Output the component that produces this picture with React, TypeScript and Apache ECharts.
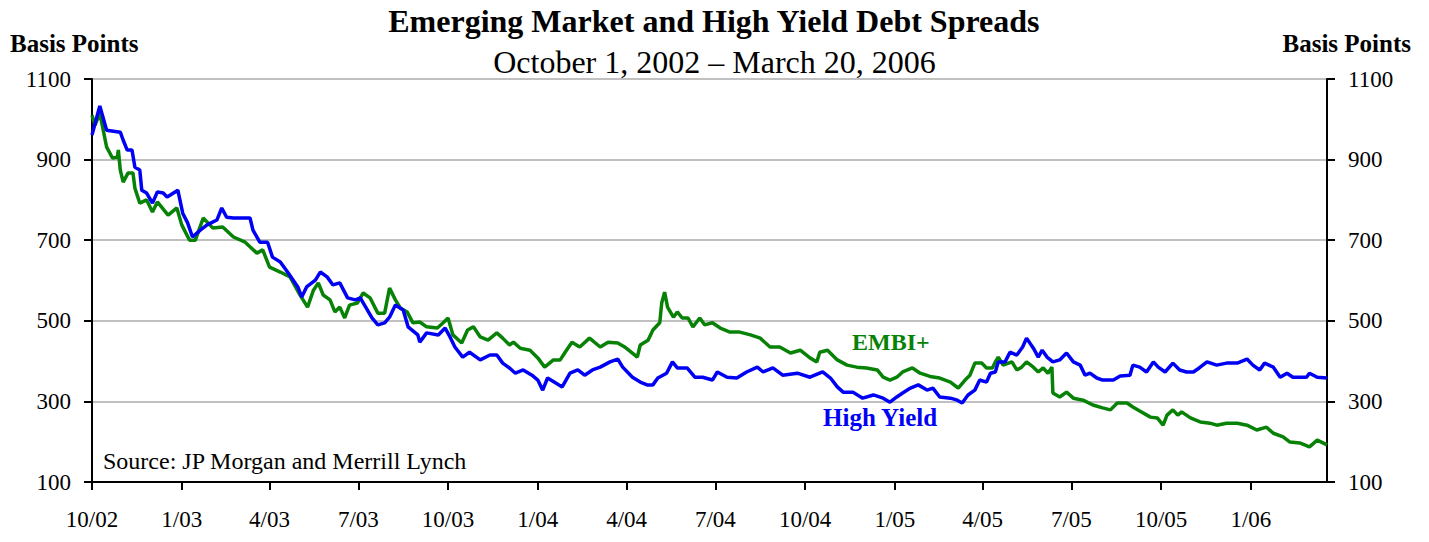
import React, { useEffect, useRef } from "react";
import * as echarts from "echarts";

// Day offsets are days since October 1, 2002
const quarterDays = [0, 92, 182, 273, 365, 457, 548, 639, 731, 823, 913, 1004, 1096, 1188];
const quarterLabels = ["10/02", "1/03", "4/03", "7/03", "10/03", "1/04", "4/04", "7/04", "10/04", "1/05", "4/05", "7/05", "10/05", "1/06"];
const lastDay = 1266; // March 20, 2006

const yTicks = [100, 300, 500, 700, 900, 1100];

const highYieldDays = [
  0, 8, 15, 29, 32, 36, 41, 44, 49, 51, 56, 62, 67, 73, 77, 88, 93, 98, 103, 111,
  118, 128, 133, 138, 145, 162, 165, 172, 180, 185, 193, 201, 211, 215, 220, 229, 234, 241, 247, 254,
  262, 270, 275, 287, 293, 300, 305, 311, 319, 324, 334, 336, 343, 355, 362, 367, 372, 380, 387, 398,
  408, 415, 421, 428, 434, 442, 451, 457, 462, 467, 475, 482, 490, 498, 505, 513, 521, 531, 539, 544,
  554, 562, 569, 575, 580, 589, 595, 600, 610, 618, 626, 636, 641, 651, 661, 671, 682, 688, 698, 708,
  723, 736, 749, 757, 764, 770, 780, 790, 801, 811, 818, 825, 831, 839, 847, 856, 862, 869, 880, 887,
  892, 898, 905, 910, 917, 921, 926, 929, 936, 941, 948, 954, 958, 965, 970, 974, 979, 985, 992, 999,
  1006, 1013, 1018, 1023, 1030, 1036, 1047, 1054, 1064, 1067, 1074, 1081, 1088, 1093, 1100, 1108, 1115, 1122, 1129, 1135,
  1143, 1153, 1163, 1174, 1184, 1190, 1197, 1202, 1211, 1218, 1225, 1231, 1245, 1248, 1256, 1266
];
const highYieldValues = [
  961, 1033, 973, 968, 948, 924, 924, 881, 874, 824, 817, 792, 820, 817, 807, 824, 767, 743, 708, 725,
  738, 750, 780, 757, 755, 755, 725, 695, 695, 658, 646, 619, 584, 559, 584, 601, 621, 609, 589, 594,
  557, 552, 557, 507, 490, 495, 509, 539, 527, 485, 465, 447, 470, 465, 482, 460, 435, 410, 422, 403,
  415, 415, 395, 383, 370, 378, 365, 353, 328, 358, 346, 336, 370, 378, 365, 378, 385, 398, 405, 385,
  360, 348, 341, 341, 358, 370, 398, 383, 383, 360, 360, 353, 373, 360, 358, 373, 385, 373, 383, 365,
  370, 360, 373, 358, 336, 323, 323, 308, 316, 308, 298, 311, 321, 333, 341, 328, 333, 311, 308, 303,
  296, 316, 328, 353, 348, 370, 373, 398, 398, 422, 415, 435, 457, 432, 410, 427, 410, 398, 403, 420,
  398, 390, 365, 370, 358, 353, 353, 363, 365, 390, 385, 373, 398, 385, 373, 395, 378, 373, 373, 383,
  398, 390, 395, 395, 405, 390, 378, 395, 385, 360, 370, 360, 360, 370, 360, 358
];

const embiDays = [
  0, 3, 8, 15, 21, 26, 27, 29, 32, 37, 42, 44, 49, 56, 62, 67, 78, 87, 92, 100,
  106, 114, 124, 134, 145, 157, 169, 175, 182, 193, 203, 213, 221, 227, 232, 237, 244, 249, 254, 259,
  264, 272, 278, 285, 293, 300, 305, 311, 316, 323, 329, 336, 343, 354, 360, 365, 370, 379, 385, 391,
  398, 406, 415, 421, 428, 432, 439, 449, 457, 464, 473, 480, 485, 492, 500, 510, 521, 529, 539, 546,
  559, 562, 570, 575, 582, 584, 587, 590, 596, 600, 605, 611, 616, 623, 628, 636, 644, 654, 664, 675,
  685, 695, 705, 716, 726, 736, 743, 746, 754, 764, 774, 784, 794, 805, 811, 818, 825, 831, 841, 849,
  859, 869, 880, 888, 895, 900, 905, 912, 917, 923, 926, 929, 934, 943, 948, 953, 958, 965, 970, 975,
  980, 984, 985, 992, 999, 1006, 1016, 1026, 1036, 1044, 1051, 1061, 1067, 1074, 1085, 1092, 1098, 1102, 1108, 1113,
  1117, 1126, 1136, 1146, 1153, 1163, 1174, 1184, 1194, 1204, 1211, 1221, 1228, 1238, 1248, 1256, 1266
];
const embiValues = [
  1010, 985, 1015, 931, 904, 906, 924, 874, 844, 867, 867, 829, 792, 800, 770, 795, 762, 780, 738, 700,
  700, 755, 730, 733, 708, 695, 668, 676, 633, 621, 609, 565, 534, 576, 594, 564, 552, 522, 534, 507,
  539, 544, 569, 557, 519, 519, 581, 552, 532, 522, 495, 497, 485, 482, 495, 507, 465, 445, 477, 485,
  460, 452, 470, 457, 440, 447, 432, 427, 408, 385, 403, 403, 422, 447, 435, 457, 435, 447, 445, 435,
  410, 440, 452, 477, 495, 544, 571, 534, 509, 522, 507, 507, 485, 507, 490, 495, 482, 472, 472, 465,
  457, 435, 435, 420, 427, 408, 398, 422, 427, 403, 390, 385, 383, 378, 360, 353, 360, 373, 383, 370,
  362, 358, 348, 333, 353, 365, 395, 395, 383, 383, 398, 410, 390, 398, 378, 385, 398, 385, 373, 383,
  370, 385, 321, 311, 323, 308, 303, 291, 284, 279, 296, 296, 286, 276, 261, 259, 241, 266, 279, 266,
  274, 259, 249, 246, 241, 246, 246, 241, 229, 236, 221, 212, 199, 197, 187, 204, 192
];

const BLUE = "#0000f5";
const GREEN = "#078207";
const SERIF = "'Liberation Serif', 'Times New Roman', serif";

export default function App() {
  const ref = useRef<HTMLDivElement>(null);

  useEffect(() => {
    if (!ref.current) return;
    const chart = echarts.init(ref.current, null, { renderer: "svg" });

    const hy = highYieldDays.map((d, i) => [d, highYieldValues[i]]);
    const em = embiDays.map((d, i) => [d, embiValues[i]]);

    const yAxisBase = {
      type: "value",
      min: yTicks[0],
      max: yTicks[yTicks.length - 1],
      interval: 200,
      axisLine: { show: true, lineStyle: { color: "#000", width: 2 } },
      axisTick: { show: true, length: 8, lineStyle: { color: "#000", width: 2 } },
      axisLabel: {
        color: "#000",
        fontSize: 23,
        fontFamily: SERIF,
        margin: 21,
        formatter: (v: number) => String(v),
      },
    };

    chart.setOption({
      animation: false,
      backgroundColor: "#fff",
      grid: {
        left: 92,
        right: 102,
        top: 79,
        bottom: 60,
        show: true,
        borderColor: "#000",
        borderWidth: 2,
        containLabel: false,
      },
      xAxis: {
        type: "value",
        min: 0,
        max: lastDay,
        axisLine: { show: true, lineStyle: { color: "#000", width: 2 } },
        axisTick: {
          show: true,
          length: 8,
          customValues: quarterDays,
          lineStyle: { color: "#000", width: 2 },
        },
        axisLabel: {
          customValues: quarterDays,
          color: "#000",
          fontSize: 23,
          fontFamily: SERIF,
          margin: 26,
          formatter: (v: number) => {
            const i = quarterDays.indexOf(v);
            return i >= 0 ? quarterLabels[i] : "";
          },
        },
        splitLine: { show: false },
      },
      yAxis: [
        {
          ...yAxisBase,
          position: "left",
          splitLine: { show: true, lineStyle: { color: "#c0c0c0", width: 2 } },
        },
        {
          ...yAxisBase,
          position: "right",
          splitLine: { show: false },
        },
      ],
      series: [
        {
          name: "EMBI+",
          type: "line",
          data: em,
          symbol: "none",
          lineStyle: { color: GREEN, width: 3.5 },
          itemStyle: { color: GREEN },
          z: 2,
        },
        {
          name: "High Yield",
          type: "line",
          data: hy,
          symbol: "none",
          lineStyle: { color: BLUE, width: 3.5 },
          itemStyle: { color: BLUE },
          z: 3,
        },
      ],
      graphic: [
        {
          type: "text",
          left: "center",
          top: 5,
          style: {
            text: "Emerging Market and High Yield Debt Spreads",
            font: `bold 32px ${SERIF}`,
            fill: "#000",
          },
        },
        {
          type: "text",
          left: "center",
          top: 46,
          style: {
            text: "October 1, 2002 \u2013 March 20, 2006",
            font: `32px ${SERIF}`,
            fill: "#000",
          },
        },
        {
          type: "text",
          left: 10,
          top: 31,
          style: { text: "Basis Points", font: `bold 25px ${SERIF}`, fill: "#000" },
        },
        {
          type: "text",
          right: 18,
          top: 31,
          style: { text: "Basis Points", font: `bold 25px ${SERIF}`, fill: "#000" },
        },
        {
          type: "text",
          left: 103,
          top: 449,
          style: { text: "Source: JP Morgan and Merrill Lynch", font: `24px ${SERIF}`, fill: "#000" },
        },
        {
          type: "text",
          left: 852,
          top: 330,
          style: { text: "EMBI+", font: `bold 24px ${SERIF}`, fill: GREEN },
        },
        {
          type: "text",
          left: 823,
          top: 405,
          style: { text: "High Yield", font: `bold 25px ${SERIF}`, fill: BLUE },
        },
      ],
    });

    return () => chart.dispose();
  }, []);

  return (
    <div
      ref={ref}
      style={{ position: "absolute", left: 0, top: 0, width: 1429, height: 542 }}
    />
  );
}
